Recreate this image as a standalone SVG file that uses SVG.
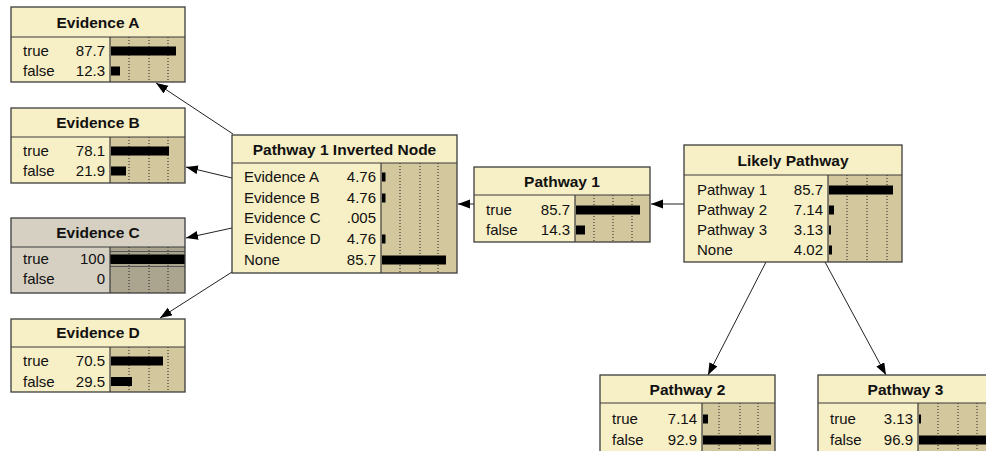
<svg xmlns="http://www.w3.org/2000/svg" width="986" height="451" viewBox="0 0 986 451">
<style>
.t{fill:#f7efc5}
.b{fill:#d3c79d}
.gt{fill:#d5d0c2}
.gb{fill:#aba48e}
.o{fill:none;stroke:#3c3c3c;stroke-width:1.3}
.sep{stroke:#3c3c3c;stroke-width:1.2}
.d{stroke:#222;stroke-width:1;stroke-dasharray:1 2}
.ti{font-family:"Liberation Sans",Arial,sans-serif;font-weight:bold;font-size:15.5px;text-anchor:middle;fill:#111}
.lb{font-family:"Liberation Sans",Arial,sans-serif;font-size:15px;fill:#111}
.v{text-anchor:end}
.bar{fill:#000}
.c{stroke:#222;stroke-width:1;fill:none}
</style>
<defs>
<marker id="ah" markerUnits="userSpaceOnUse" markerWidth="13" markerHeight="10" refX="12" refY="4.5" orient="auto">
<path d="M0,0 L12,4.5 L0,9 z" fill="#000"/>
</marker>
</defs>
<rect width="986" height="451" fill="#fff"/>

<g id="connectors">
<line class="c" x1="233" y1="134" x2="156" y2="83" marker-end="url(#ah)"/>
<line class="c" x1="232" y1="178" x2="186" y2="167" marker-end="url(#ah)"/>
<line class="c" x1="232" y1="228" x2="186" y2="238" marker-end="url(#ah)"/>
<line class="c" x1="232" y1="272" x2="160" y2="318" marker-end="url(#ah)"/>
<line class="c" x1="474" y1="204" x2="458" y2="204" marker-end="url(#ah)"/>
<line class="c" x1="684" y1="204" x2="651" y2="204" marker-end="url(#ah)"/>
<line class="c" x1="766" y1="262" x2="708" y2="375" marker-end="url(#ah)"/>
<line class="c" x1="825" y1="262" x2="886" y2="375" marker-end="url(#ah)"/>
</g>

<g id="evidence-a">
<rect class="t" x="11" y="7" width="174" height="75"/>
<rect class="b" x="110" y="37" width="75" height="45"/>
<line class="d" x1="129" y1="37" x2="129" y2="82"/>
<line class="d" x1="149" y1="37" x2="149" y2="82"/>
<line class="d" x1="168" y1="37" x2="168" y2="82"/>
<line class="sep" x1="11" y1="37" x2="185" y2="37"/>
<line class="sep" x1="110" y1="37" x2="110" y2="82"/>
<rect class="o" x="11" y="7" width="174" height="75"/>
<text class="ti" x="98" y="27.5">Evidence A</text>
<text class="lb" x="23" y="56">true</text>
<text class="lb v" x="105" y="56">87.7</text>
<rect class="bar" x="111" y="46.5" width="65" height="9"/>
<text class="lb" x="23" y="76">false</text>
<text class="lb v" x="105" y="76">12.3</text>
<rect class="bar" x="111" y="66.5" width="9" height="9"/>
</g>

<g id="evidence-b">
<rect class="t" x="11" y="108" width="174" height="75"/>
<rect class="b" x="110" y="137" width="75" height="46"/>
<line class="d" x1="129" y1="137" x2="129" y2="183"/>
<line class="d" x1="149" y1="137" x2="149" y2="183"/>
<line class="d" x1="168" y1="137" x2="168" y2="183"/>
<line class="sep" x1="11" y1="137" x2="185" y2="137"/>
<line class="sep" x1="110" y1="137" x2="110" y2="183"/>
<rect class="o" x="11" y="108" width="174" height="75"/>
<text class="ti" x="98" y="128">Evidence B</text>
<text class="lb" x="23" y="156">true</text>
<text class="lb v" x="105" y="156">78.1</text>
<rect class="bar" x="111" y="146.5" width="58" height="9"/>
<text class="lb" x="23" y="176">false</text>
<text class="lb v" x="105" y="176">21.9</text>
<rect class="bar" x="111" y="166.5" width="15" height="9"/>
</g>

<g id="evidence-c">
<rect class="gt" x="11" y="218" width="174" height="75"/>
<rect class="gb" x="110" y="247" width="75" height="46"/>
<line class="d" x1="129" y1="247" x2="129" y2="293"/>
<line class="d" x1="149" y1="247" x2="149" y2="293"/>
<line class="d" x1="168" y1="247" x2="168" y2="293"/>
<line x1="110" y1="251.5" x2="185" y2="251.5" stroke="#555" stroke-width="1"/>
<line x1="110" y1="266.5" x2="185" y2="266.5" stroke="#555" stroke-width="1"/>
<rect class="bar" x="110" y="254.5" width="75" height="9.5"/>
<line class="sep" x1="11" y1="247" x2="185" y2="247"/>
<line class="sep" x1="110" y1="247" x2="110" y2="293"/>
<rect class="o" x="11" y="218" width="174" height="75"/>
<text class="ti" x="98" y="238">Evidence C</text>
<text class="lb" x="23" y="264">true</text>
<text class="lb v" x="105" y="264">100</text>
<text class="lb" x="23" y="284">false</text>
<text class="lb v" x="105" y="284">0</text>
</g>

<g id="evidence-d">
<rect class="t" x="11" y="319" width="174" height="73"/>
<rect class="b" x="110" y="347" width="75" height="45"/>
<line class="d" x1="129" y1="347" x2="129" y2="392"/>
<line class="d" x1="149" y1="347" x2="149" y2="392"/>
<line class="d" x1="168" y1="347" x2="168" y2="392"/>
<line class="sep" x1="11" y1="347" x2="185" y2="347"/>
<line class="sep" x1="110" y1="347" x2="110" y2="392"/>
<rect class="o" x="11" y="319" width="174" height="73"/>
<text class="ti" x="98" y="338">Evidence D</text>
<text class="lb" x="23" y="366">true</text>
<text class="lb v" x="105" y="366">70.5</text>
<rect class="bar" x="111" y="356.5" width="52" height="9"/>
<text class="lb" x="23" y="387">false</text>
<text class="lb v" x="105" y="387">29.5</text>
<rect class="bar" x="111" y="377" width="21" height="9"/>
</g>

<g id="pathway1-inverted">
<rect class="t" x="232" y="135" width="225" height="138"/>
<rect class="b" x="381" y="163" width="76" height="110"/>
<line class="d" x1="400" y1="163" x2="400" y2="273"/>
<line class="d" x1="420" y1="163" x2="420" y2="273"/>
<line class="d" x1="438" y1="163" x2="438" y2="273"/>
<line class="sep" x1="232" y1="163" x2="457" y2="163"/>
<line class="sep" x1="381" y1="163" x2="381" y2="273"/>
<rect class="o" x="232" y="135" width="225" height="138"/>
<text class="ti" x="344.5" y="154.5">Pathway 1 Inverted Node</text>
<text class="lb" x="244" y="182">Evidence A</text>
<text class="lb v" x="376" y="182">4.76</text>
<rect class="bar" x="382" y="172.5" width="3.5" height="9"/>
<text class="lb" x="244" y="203">Evidence B</text>
<text class="lb v" x="376" y="203">4.76</text>
<rect class="bar" x="382" y="193.5" width="3.5" height="9"/>
<text class="lb" x="244" y="223">Evidence C</text>
<text class="lb v" x="376" y="223">.005</text>
<text class="lb" x="244" y="244">Evidence D</text>
<text class="lb v" x="376" y="244">4.76</text>
<rect class="bar" x="382" y="234.5" width="3.5" height="9"/>
<text class="lb" x="244" y="265">None</text>
<text class="lb v" x="376" y="265">85.7</text>
<rect class="bar" x="382" y="255.5" width="64" height="9"/>
</g>

<g id="pathway1">
<rect class="t" x="474" y="167" width="176" height="75"/>
<rect class="b" x="575" y="195" width="75" height="47"/>
<line class="d" x1="594" y1="195" x2="594" y2="242"/>
<line class="d" x1="613" y1="195" x2="613" y2="242"/>
<line class="d" x1="632" y1="195" x2="632" y2="242"/>
<line class="sep" x1="474" y1="195" x2="650" y2="195"/>
<line class="sep" x1="575" y1="195" x2="575" y2="242"/>
<rect class="o" x="474" y="167" width="176" height="75"/>
<text class="ti" x="562" y="186.5">Pathway 1</text>
<text class="lb" x="486" y="215">true</text>
<text class="lb v" x="570" y="215">85.7</text>
<rect class="bar" x="576" y="205.5" width="64" height="9"/>
<text class="lb" x="486" y="235">false</text>
<text class="lb v" x="570" y="235">14.3</text>
<rect class="bar" x="576" y="225.5" width="9" height="9"/>
</g>

<g id="likely-pathway">
<rect class="t" x="684" y="145" width="218" height="117"/>
<rect class="b" x="828" y="175" width="74" height="87"/>
<line class="d" x1="847" y1="175" x2="847" y2="262"/>
<line class="d" x1="867" y1="175" x2="867" y2="262"/>
<line class="d" x1="887" y1="175" x2="887" y2="262"/>
<line class="sep" x1="684" y1="175" x2="902" y2="175"/>
<line class="sep" x1="828" y1="175" x2="828" y2="262"/>
<rect class="o" x="684" y="145" width="218" height="117"/>
<text class="ti" x="793" y="165.5">Likely Pathway</text>
<text class="lb" x="697" y="195">Pathway 1</text>
<text class="lb v" x="823" y="195">85.7</text>
<rect class="bar" x="829" y="185.5" width="64" height="9"/>
<text class="lb" x="697" y="215">Pathway 2</text>
<text class="lb v" x="823" y="215">7.14</text>
<rect class="bar" x="829" y="205.5" width="5" height="9"/>
<text class="lb" x="697" y="235">Pathway 3</text>
<text class="lb v" x="823" y="235">3.13</text>
<rect class="bar" x="829" y="225.5" width="2" height="9"/>
<text class="lb" x="697" y="255">None</text>
<text class="lb v" x="823" y="255">4.02</text>
<rect class="bar" x="829" y="245.5" width="3" height="9"/>
</g>

<g id="pathway2">
<rect class="t" x="600" y="375" width="175" height="85"/>
<rect class="b" x="702" y="403" width="73" height="57"/>
<line class="d" x1="719" y1="403" x2="719" y2="460"/>
<line class="d" x1="740" y1="403" x2="740" y2="460"/>
<line class="d" x1="758" y1="403" x2="758" y2="460"/>
<line class="sep" x1="600" y1="403" x2="775" y2="403"/>
<line class="sep" x1="702" y1="403" x2="702" y2="460"/>
<rect class="o" x="600" y="375" width="175" height="85"/>
<text class="ti" x="687.5" y="394.5">Pathway 2</text>
<text class="lb" x="612" y="424">true</text>
<text class="lb v" x="697" y="424">7.14</text>
<rect class="bar" x="703" y="414.5" width="5" height="9"/>
<text class="lb" x="612" y="445">false</text>
<text class="lb v" x="697" y="445">92.9</text>
<rect class="bar" x="703" y="435.5" width="68" height="9"/>
</g>

<g id="pathway3">
<rect class="t" x="818" y="375" width="175" height="85"/>
<rect class="b" x="918" y="403" width="75" height="57"/>
<line class="d" x1="938" y1="403" x2="938" y2="460"/>
<line class="d" x1="958" y1="403" x2="958" y2="460"/>
<line class="d" x1="977" y1="403" x2="977" y2="460"/>
<line class="sep" x1="818" y1="403" x2="993" y2="403"/>
<line class="sep" x1="918" y1="403" x2="918" y2="460"/>
<rect class="o" x="818" y="375" width="175" height="85"/>
<text class="ti" x="905.5" y="394.5">Pathway 3</text>
<text class="lb" x="830" y="424">true</text>
<text class="lb v" x="913" y="424">3.13</text>
<rect class="bar" x="919" y="414.5" width="2" height="9"/>
<text class="lb" x="830" y="445">false</text>
<text class="lb v" x="913" y="445">96.9</text>
<rect class="bar" x="919" y="435.5" width="72" height="9"/>
</g>
</svg>
